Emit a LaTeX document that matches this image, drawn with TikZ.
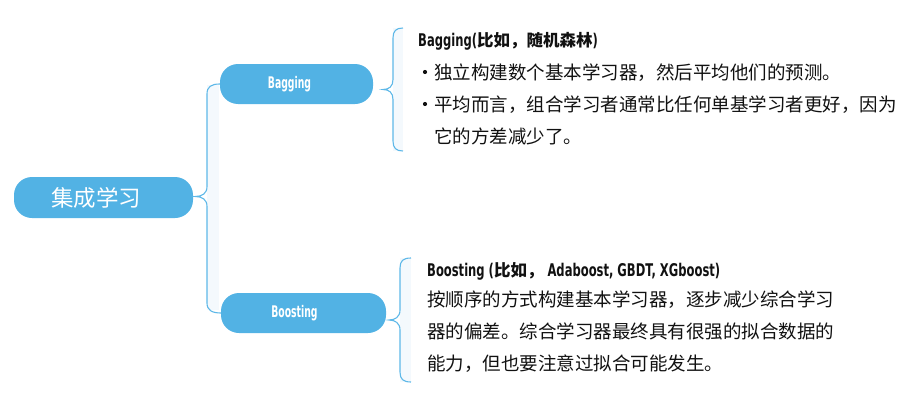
\documentclass[tikz,border=0pt]{standalone}
\usepackage{fontspec}
\setmainfont{Noto Sans CJK SC}
\newfontfamily\condfont[FakeStretch=0.66]{DejaVu Sans}
\newfontfamily\condfontN[FakeStretch=0.58]{DejaVu Sans}
\newcommand\lat[1]{{\condfont\bfseries\fontsize{17.5}{19}\selectfont #1}}
\newcommand\latn[1]{{\condfontN\bfseries\fontsize{16}{18}\selectfont #1}}
\usetikzlibrary{calc}
\definecolor{nodeblue}{HTML}{52B2E4}
\definecolor{bracecol}{HTML}{5EB8E8}
\definecolor{shadecol}{HTML}{F4F9FD}
\definecolor{txtcol}{HTML}{111111}
\tikzset{
  topic/.style={fill=nodeblue, rounded corners=18pt, inner sep=0pt, text=white},
  brc/.style={draw=bracecol, line width=1.1pt},
  txt/.style={anchor=base west, inner sep=0pt, text=txtcol, font=\fontsize{18.5}{20}\selectfont},
  ttl/.style={anchor=base west, inner sep=0pt, text=txtcol, font=\fontsize{16.5}{18}\selectfont\bfseries},
  bul/.style={circle, fill=txtcol, inner sep=0pt, minimum size=4.2pt},
}
\begin{document}
\begin{tikzpicture}[x=1pt, y=-1pt]
\useasboundingbox (0,0) rectangle (914,407);
% faint shading beside braces
\fill[shadecol] (207,85) rectangle (219,310);
\fill[shadecol] (393,28) rectangle (403,151);
\fill[shadecol] (400,258) rectangle (411,382);
% nodes
\node[topic, minimum width=179pt, minimum height=41pt] (root) at (103.5,197.5)
  {\fontsize{22.5}{24}\selectfont 集成学习\hspace*{14pt}};
\node[topic, minimum width=153pt, minimum height=40pt] (bag) at (296.5,84)
  {\latn{Bagging}\hspace*{14pt}};
\node[topic, minimum width=165pt, minimum height=40pt] (boost) at (303.5,313)
  {\latn{Boosting}\hspace*{18pt}};
\coordinate (rx) at (207,0);
% root brace
\draw[brc] (bag.west) .. controls +(-9,0) and +(0,-7) .. ($(bag.west -| rx)+(0,10)$)
  -- ($(root.east -| rx)+(0,-11)$) .. controls +(0,7) and +(7,0) .. ($(root.east)+(2,-1)$)
  .. controls +(7,0) and +(0,-7) .. ($(root.east -| rx)+(0,9)$)
  -- ($(boost.west -| rx)+(0,-10)$) .. controls +(0,7) and +(-9,0) .. (boost.west);
% bagging brace
\coordinate (bt) at (403,28);
\coordinate (bm) at (383,89.5);
\coordinate (bb) at (403,151);
\draw[brc] (bt) .. controls +(-7,0) and +(0,-7) .. ($(bt)+(-10,10)$)
  -- ($(bm)+(10,-10)$) .. controls +(0,7) and +(6,0) .. (bm)
  .. controls +(6,0) and +(0,-7) .. ($(bm)+(10,10)$)
  -- ($(bb)+(-10,-10)$) .. controls +(0,7) and +(-7,0) .. (bb);
% boosting brace
\coordinate (ct) at (411,258);
\coordinate (cm) at (389,320);
\coordinate (cb) at (411,382);
\draw[brc] (ct) .. controls +(-8,0) and +(0,-7) .. ($(ct)+(-11,10)$)
  -- ($(cm)+(11,-10)$) .. controls +(0,7) and +(6,0) .. (cm)
  .. controls +(6,0) and +(0,-7) .. ($(cm)+(11,10)$)
  -- ($(cb)+(-11,-10)$) .. controls +(0,7) and +(-8,0) .. (cb);
% bagging text
\node[ttl] (bagt) at (418,46) {\lat{Bagging(}比如，随机森林\lat{)}};
\node[bul] (bu1) at (425,72) {};
\node[txt] (bl1) at (434,79) {独立构建数个基本学习器，然后平均他们的预测。};
\node[bul] (bu2) at (425,104) {};
\node[txt] (bl2) at (434,111) {平均而言，组合学习者通常比任何单基学习者更好，因为};
\node[txt] (bl3) at (434,143) {它的方差减少了。};
% boosting text
\node[ttl] (boot) at (427,276) {\lat{Boosting (}比如，\lat{ Adaboost, GBDT, XGboost)}};
\node[txt] (bo1) at (427,306) {按顺序的方式构建基本学习器，逐步减少综合学习};
\node[txt] (bo2) at (427,338) {器的偏差。综合学习器最终具有很强的拟合数据的};
\node[txt] (bo3) at (427,370) {能力，但也要注意过拟合可能发生。};
\end{tikzpicture}
\end{document}
